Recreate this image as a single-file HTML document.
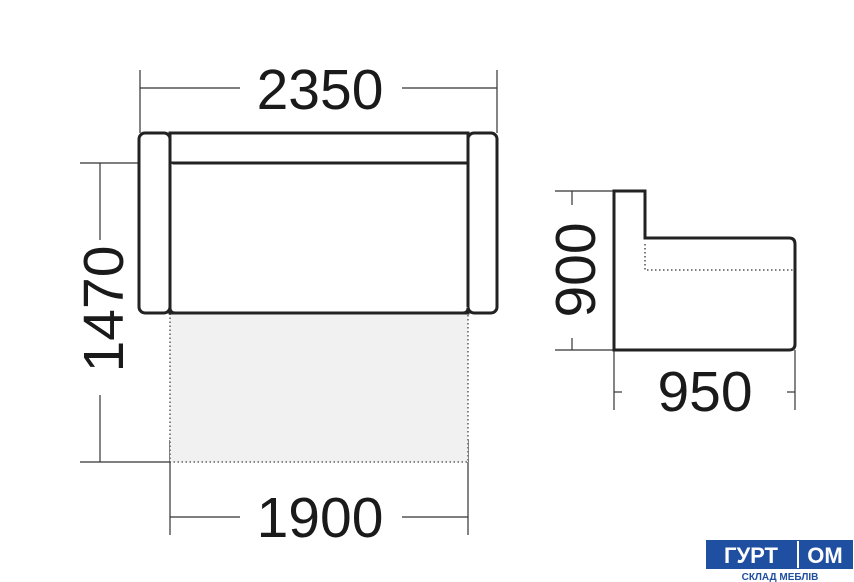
<!DOCTYPE html>
<html><head><meta charset="utf-8"><style>
body{margin:0;background:#fff}
svg{display:block}
text{font-family:"Liberation Sans",sans-serif;fill:#1a1a1a}
</style></head><body>
<svg width="854" height="582" viewBox="0 0 854 582">
<g stroke="#333" stroke-width="1.2" fill="none">
<line x1="140" y1="70" x2="140" y2="133"/><line x1="497" y1="70" x2="497" y2="133"/>
<line x1="140" y1="88" x2="240" y2="88"/><line x1="402" y1="88" x2="497" y2="88"/>
<line x1="80" y1="163" x2="139" y2="163"/><line x1="80" y1="462" x2="170" y2="462"/>
<line x1="100" y1="163" x2="100" y2="240"/><line x1="100" y1="395" x2="100" y2="462"/>
<line x1="170" y1="440" x2="170" y2="535"/><line x1="468" y1="440" x2="468" y2="535"/>
<line x1="170" y1="517" x2="240" y2="517"/><line x1="402" y1="517" x2="468" y2="517"/>
<line x1="555" y1="191" x2="614" y2="191"/><line x1="555" y1="350" x2="614" y2="350"/>
<line x1="572" y1="191" x2="572" y2="205"/><line x1="572" y1="338" x2="572" y2="350"/>
<line x1="614" y1="350" x2="614" y2="410"/><line x1="795" y1="350" x2="795" y2="410"/>
<line x1="614" y1="392" x2="622" y2="392"/><line x1="787" y1="392" x2="795" y2="392"/>
</g>
<rect x="170" y="313" width="298" height="149" fill="#f1f1f1" stroke="#444" stroke-width="1.3" stroke-dasharray="1.5 2.5"/>
<g stroke="#222" stroke-width="3" fill="#fff">
<rect x="139" y="133" width="31" height="180" rx="6"/>
<rect x="468" y="133" width="29" height="180" rx="6"/>
<path d="M170 133 H468 V313 H170 Z" />
<path d="M170 163 H468"/>
<path d="M170 163 V308 Q170 313 175 313 H463 Q468 313 468 308"/>
<path d="M614 350 V191 H645 V238 H789 Q795 238 795 244 V344 Q795 350 789 350 Z"/>
</g>
<path d="M645 244 V270 H795" stroke="#333" stroke-width="1.3" fill="none" stroke-dasharray="1.5 2.5"/>
<text x="320" y="109" font-size="57" text-anchor="middle">2350</text>
<text x="320" y="537" font-size="57" text-anchor="middle">1900</text>
<text x="705" y="411" font-size="57" text-anchor="middle">950</text>
<text transform="translate(123,309) rotate(-90)" font-size="57" text-anchor="middle">1470</text>
<text transform="translate(595,270) rotate(-90)" font-size="57" text-anchor="middle">900</text>
<rect x="706" y="540" width="147" height="29" fill="#1f4fa0"/>
<line x1="798" y1="541" x2="798" y2="568" stroke="#fff" stroke-width="2"/>
<text x="751" y="563" font-size="22" font-weight="bold" text-anchor="middle" style="fill:#fff">ГУРТ</text>
<text x="825" y="563" font-size="22" font-weight="bold" text-anchor="middle" style="fill:#fff">ОМ</text>
<text x="780" y="580" font-size="10" font-weight="bold" text-anchor="middle" style="fill:#1f4fa0">СКЛАД МЕБЛІВ</text>
</svg>
</body></html>
